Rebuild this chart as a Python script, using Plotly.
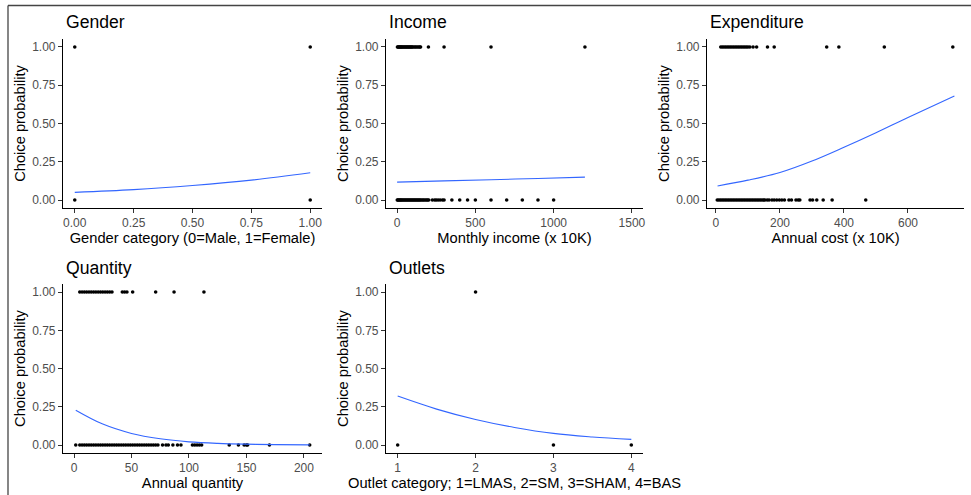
import plotly.graph_objects as go

FONT = "Liberation Sans, Arial, sans-serif"
BLUE = "#3366FF"

# ---------------- data ----------------
# Gender
gender_x_y1 = [0, 1]
gender_x_y0 = [0, 1]
gender_curve_x = [0, 0.25, 0.5, 0.75, 1.0]
gender_curve_y = [0.05, 0.068, 0.095, 0.13, 0.178]

# Income
income_x_y1 = [2, 6, 10, 14, 18, 22, 26, 30, 35, 40, 45, 50, 55, 60, 65, 70, 75, 80,
               85, 90, 95, 100, 108, 115, 122, 130, 138, 145, 150, 200, 300, 600, 1200]
income_x_y0 = [1, 5, 10, 15, 20, 25, 30, 36, 42, 48, 54, 60, 66, 72, 78, 84, 90, 96,
               102, 108, 114, 120, 126, 132, 138, 144, 150, 158, 165, 172, 180, 188,
               195, 202, 225, 240, 250, 262, 275, 290, 300, 350, 400, 450, 500, 600,
               700, 800, 900, 1000]
income_curve_x = [0, 300, 600, 900, 1200]
income_curve_y = [0.117, 0.125, 0.133, 0.141, 0.150]

# Expenditure
exp_x_y1 = [15, 20, 25, 30, 35, 40, 45, 50, 55, 60, 65, 70, 75, 80, 85, 90, 95, 100,
            106, 116, 127, 161, 182, 346, 384, 526, 740]
exp_x_y0 = [4, 9, 14, 19, 24, 29, 34, 39, 44, 49, 54, 59, 64, 69, 74, 79, 84, 89, 94,
            99, 104, 109, 114, 119, 124, 129, 134, 139, 144, 149, 153, 160, 166, 175,
            182, 190, 198, 206, 214, 228, 236, 250, 257, 262, 294, 302, 315, 335,
            363, 468]
exp_curve_x = [5, 100, 200, 300, 400, 500, 600, 745]
exp_curve_y = [0.092, 0.13, 0.18, 0.255, 0.345, 0.44, 0.54, 0.68]

# Quantity
qty_x_y1 = [5, 7, 9, 11, 13, 15, 17, 19, 21, 23, 25, 27, 29, 31, 33, 42, 44, 46, 51,
            71, 87, 113]
qty_x_y0 = [1.5, 5, 7, 9, 11, 13, 15, 17, 19, 21, 23, 25, 27, 29, 31, 33, 35, 37, 39,
            41, 43, 45, 47, 49, 51, 53, 55, 57, 59, 61, 63, 65, 67, 69, 71, 73, 77,
            80, 82, 86, 90, 93, 103, 105, 107, 109, 111, 135, 143, 148, 150, 151,
            170, 205]
qty_curve_x = [1.5, 25, 50, 75, 100, 125, 150, 175, 205]
qty_curve_y = [0.228, 0.137, 0.076, 0.041, 0.021, 0.011, 0.0058, 0.003, 0.0014]

# Outlets
out_x_y1 = [2]
out_x_y0 = [1, 3, 4]
out_curve_x = [1, 1.5, 2, 2.5, 3, 3.5, 4]
out_curve_y = [0.32, 0.235, 0.167, 0.115, 0.076, 0.053, 0.037]

prob_ticks = [0, 0.25, 0.5, 0.75, 1.0]
prob_labels = ["0.00", "0.25", "0.50", "0.75", "1.00"]

W, H = 971, 495
cols = [(63, 322), (386, 643), (707, 964)]
rows = [(39.3, 207.7), (284.4, 452.7)]
title_y = [22, 268]

panels = [
    dict(title="Gender", xtitle="Gender category (0=Male, 1=Female)",
         x1=gender_x_y1, x0=gender_x_y0, cx=gender_curve_x, cy=gender_curve_y,
         xrange=[-0.05, 1.05], tv=[0, 0.25, 0.5, 0.75, 1.0],
         tt=["0.00", "0.25", "0.50", "0.75", "1.00"], r=0, c=0),
    dict(title="Income", xtitle="Monthly income (x 10K)",
         x1=income_x_y1, x0=income_x_y0, cx=income_curve_x, cy=income_curve_y,
         xrange=[-71, 1571], tv=[0, 500, 1000, 1500],
         tt=["0", "500", "1000", "1500"], r=0, c=1),
    dict(title="Expenditure", xtitle="Annual cost (x 10K)",
         x1=exp_x_y1, x0=exp_x_y0, cx=exp_curve_x, cy=exp_curve_y,
         xrange=[-28, 775], tv=[0, 200, 400, 600],
         tt=["0", "200", "400", "600"], r=0, c=2),
    dict(title="Quantity", xtitle="Annual quantity",
         x1=qty_x_y1, x0=qty_x_y0, cx=qty_curve_x, cy=qty_curve_y,
         xrange=[-9.6, 215.7], tv=[0, 50, 100, 150, 200],
         tt=["0", "50", "100", "150", "200"], r=1, c=0),
    dict(title="Outlets", xtitle="Outlet category; 1=LMAS, 2=SM, 3=SHAM, 4=BAS",
         x1=out_x_y1, x0=out_x_y0, cx=out_curve_x, cy=out_curve_y,
         xrange=[0.85, 4.15], tv=[1, 2, 3, 4],
         tt=["1", "2", "3", "4"], r=1, c=1),
]

fig = go.Figure()
annotations = []
layout = {}
for i, p in enumerate(panels, start=1):
    xa = "x" if i == 1 else f"x{i}"
    ya = "y" if i == 1 else f"y{i}"
    xl, xr = cols[p["c"]]
    yt, yb = rows[p["r"]]
    dom_x = [xl / W, xr / W]
    dom_y = [1 - yb / H, 1 - yt / H]
    pts_x = p["x0"] + p["x1"]
    pts_y = [0] * len(p["x0"]) + [1] * len(p["x1"])
    fig.add_trace(go.Scatter(x=pts_x, y=pts_y, mode="markers", xaxis=xa, yaxis=ya,
                             marker=dict(color="black", size=3.6),
                             showlegend=False, hoverinfo="skip", cliponaxis=False))
    fig.add_trace(go.Scatter(x=p["cx"], y=p["cy"], mode="lines", xaxis=xa, yaxis=ya,
                             line=dict(color=BLUE, width=1.1, shape="spline"),
                             showlegend=False, hoverinfo="skip"))
    common = dict(showline=True, linecolor="black", linewidth=1.2, ticks="outside",
                  ticklen=4, tickwidth=1, tickcolor="#333333", showgrid=False,
                  zeroline=False, automargin=False,
                  tickfont=dict(family=FONT, size=12, color="#4D4D4D"))
    layout["xaxis" if i == 1 else f"xaxis{i}"] = dict(
        domain=dom_x, range=p["xrange"], anchor=ya, tickvals=p["tv"], ticktext=p["tt"],
        title=dict(text=p["xtitle"], font=dict(family=FONT, size=14.7, color="black"),
                   standoff=3),
        **common)
    layout["yaxis" if i == 1 else f"yaxis{i}"] = dict(
        domain=dom_y, range=[-0.05, 1.05], anchor=xa, tickvals=prob_ticks,
        ticktext=prob_labels,
        title=dict(text="Choice probability",
                   font=dict(family=FONT, size=14.7, color="black"), standoff=2),
        **common)
    annotations.append(dict(text=p["title"], x=(xl + 1) / W, y=1 - title_y[p["r"]] / H,
                            xref="paper", yref="paper", xanchor="left", yanchor="middle",
                            showarrow=False,
                            font=dict(family=FONT, size=17.6, color="black")))

fig.update_layout(
    width=W, height=H, margin=dict(l=0, r=0, t=0, b=0),
    paper_bgcolor="white", plot_bgcolor="white",
    annotations=annotations,
    shapes=[
        dict(type="line", xref="paper", yref="paper", x0=8 / W, x1=1,
             y0=1 - 5.5 / H, y1=1 - 5.5 / H, line=dict(color="#444444", width=1.3)),
        dict(type="line", xref="paper", yref="paper", x0=8 / W, x1=8 / W,
             y0=0, y1=1 - 5.5 / H, line=dict(color="#444444", width=1.3)),
    ],
    **layout,
)

fig.write_html("out.html", config={"displayModeBar": False},
               post_script="document.body.style.margin='0px';document.body.style.overflow='hidden';")
